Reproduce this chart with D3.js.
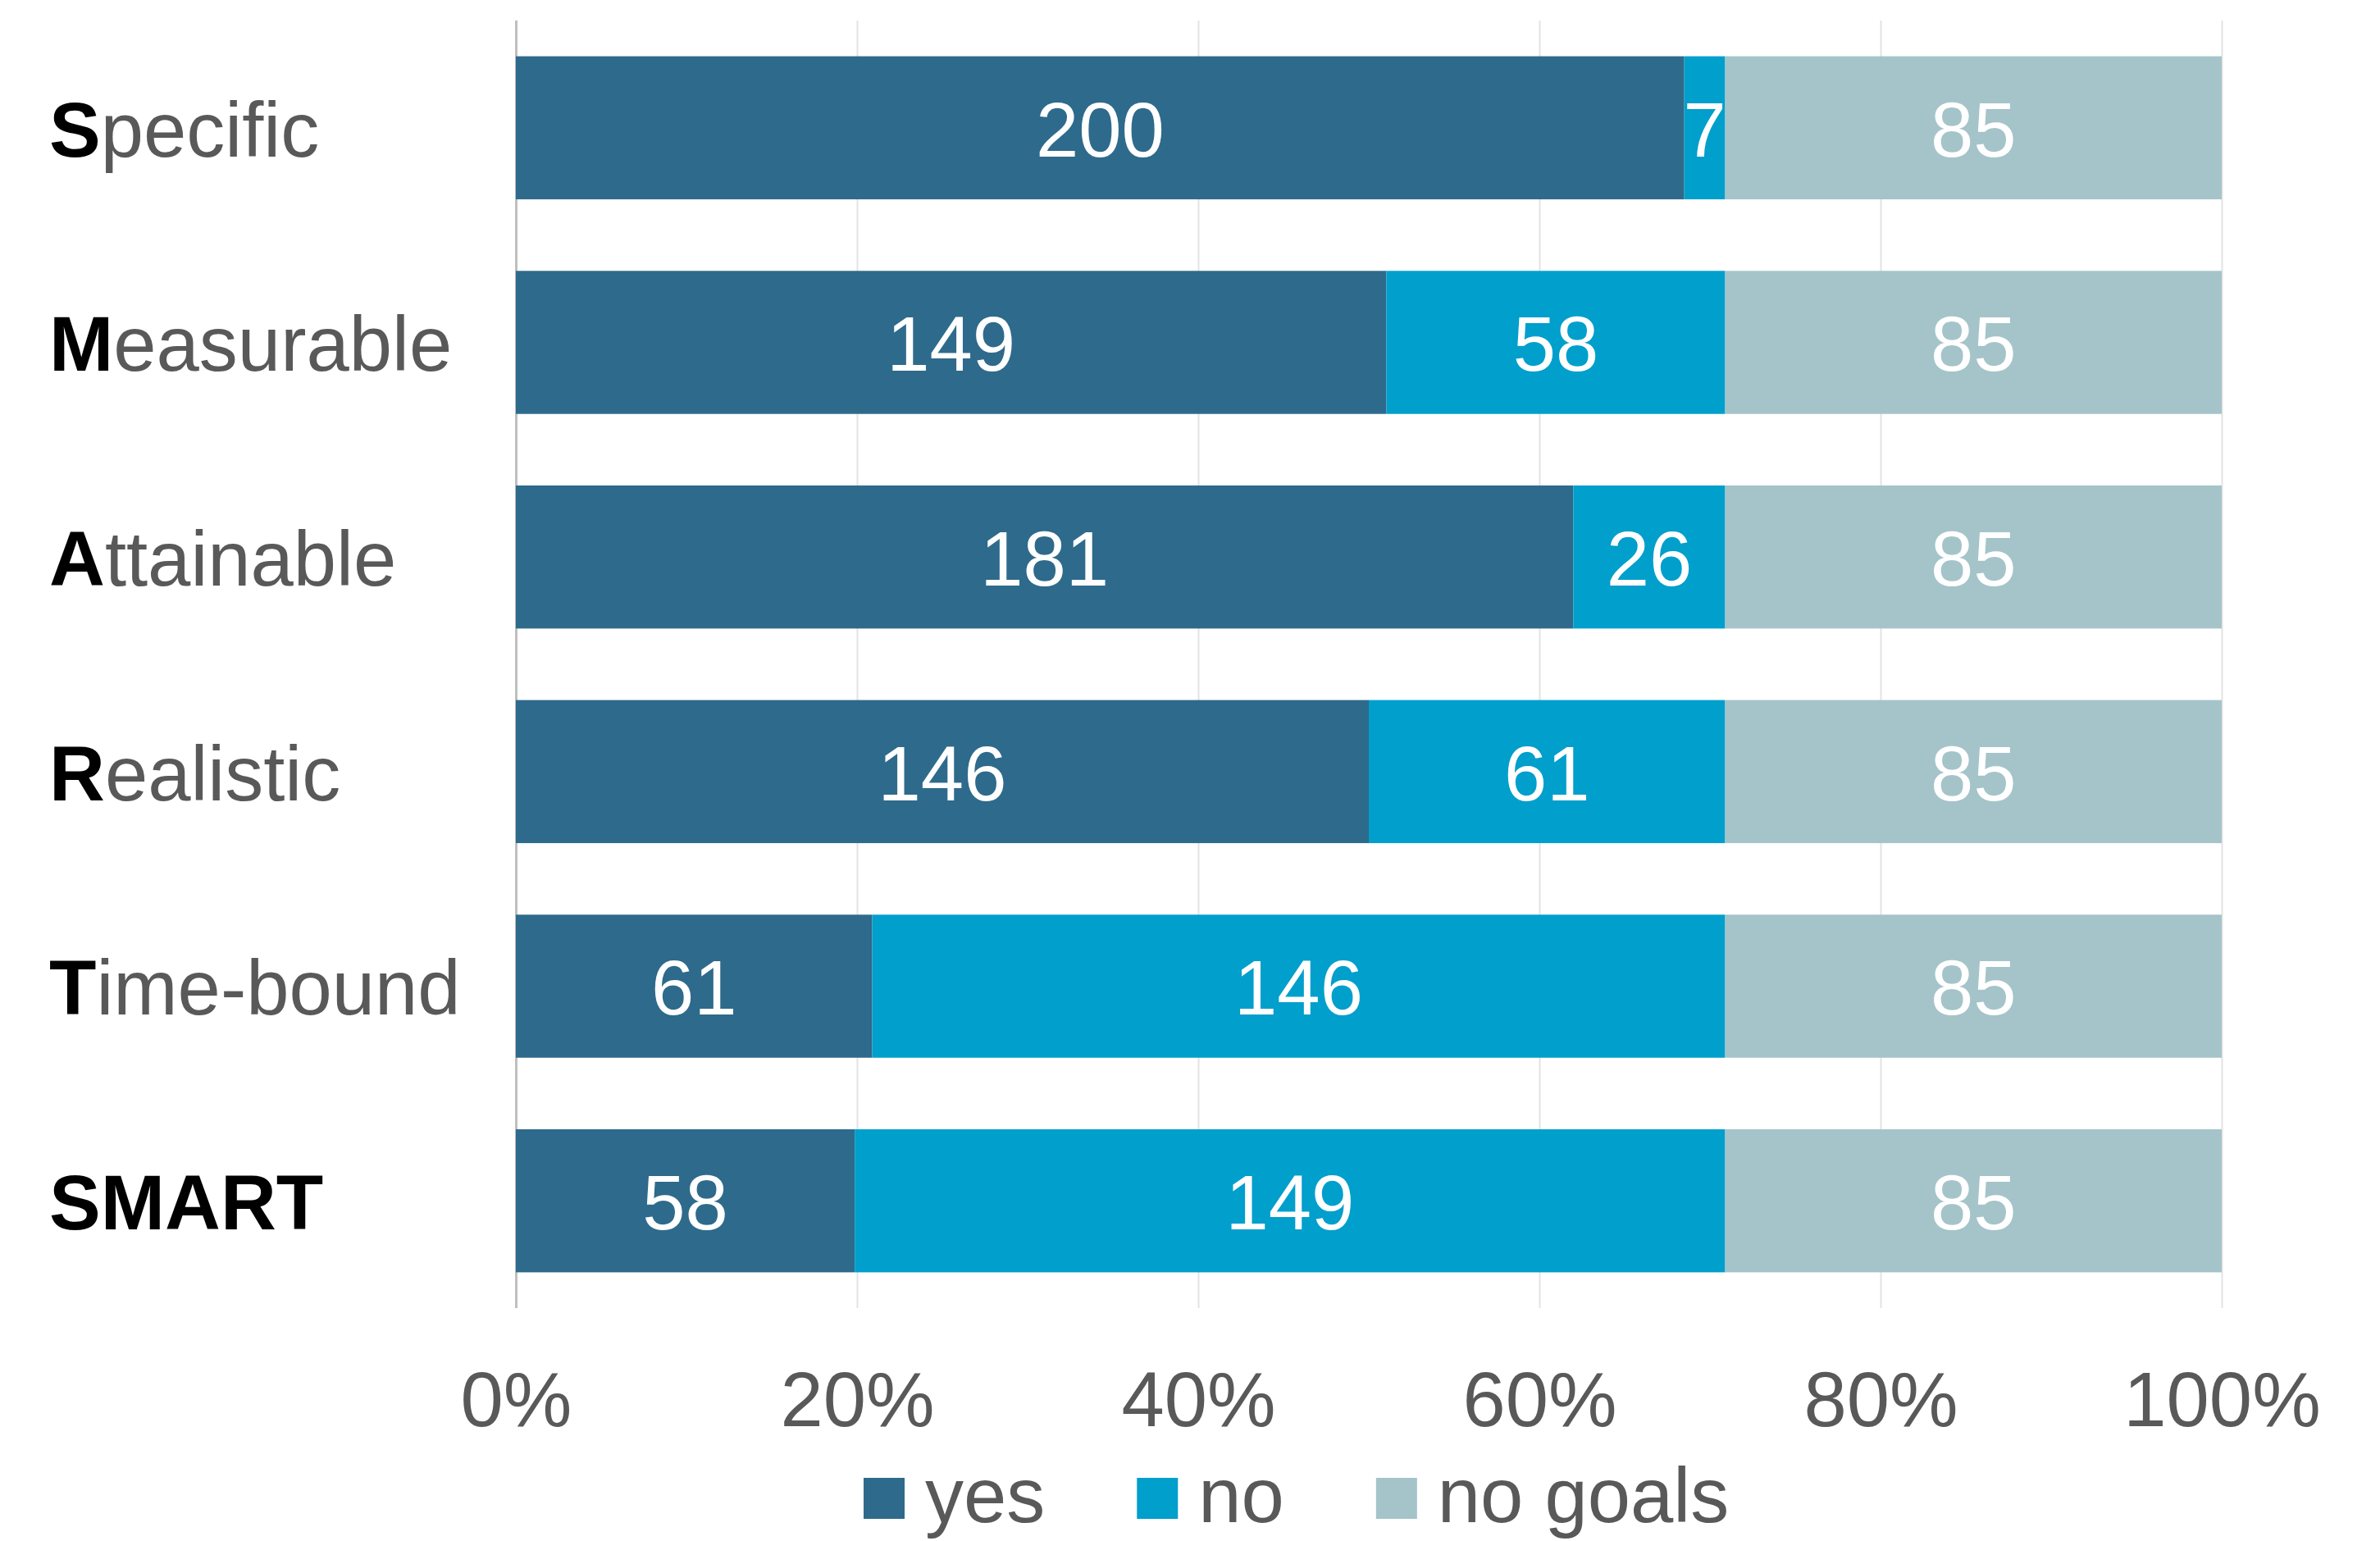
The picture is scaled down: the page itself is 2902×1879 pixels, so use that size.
<!DOCTYPE html>
<html>
<head>
<meta charset="utf-8">
<script src="https://cdn.jsdelivr.net/npm/d3@7"></script>
<style>
  body { margin: 0; background: #fff; }
  svg { display: block; }
</style>
</head>
<body>
<div id="viz"></div>
<script>

var width = 2902
var height = 1879

// data
var categories = ["Specific", "Measurable", "Attainable", "Realistic", "Time-bound", "SMART"];
var yesValues = [200, 149, 181, 146, 61, 58];
var noValues = [7, 58, 26, 61, 146, 149];
var noGoalsValues = [85, 85, 85, 85, 85, 85];
var seriesNames = ["yes", "no", "no goals"];
var seriesColors = ["#2e6a8b", "#009fcc", "#a4c4c9"];
var tickValues = [0, 0.2, 0.4, 0.6, 0.8, 1];

var font = "'Liberation Sans', Arial, sans-serif";
var fontSize = 94;
var grey = "#595959";

var table = categories.map(function(c, i){
	return {cat: c, "yes": yesValues[i], "no": noValues[i], "no goals": noGoalsValues[i]};
});

var canvas = d3.select("#viz")
	.append("svg")
	.attr("width", width)
	.attr("height", height);

var plotLeft = 629, plotRight = 2709, plotTop = 25, plotBottom = 1595;

var xScale = d3.scaleLinear()
	.domain([0, 1])
	.range([plotLeft, plotRight]);

var yScale = d3.scaleBand()
	.domain(categories)
	.range([plotTop, plotBottom])
	.paddingInner(1/3)
	.paddingOuter(1/6);

var colorScale = d3.scaleOrdinal()
	.domain(seriesNames)
	.range(seriesColors);

// gridlines + tick labels
var xAxis = d3.axisBottom(xScale)
	.tickValues(tickValues)
	.tickFormat(d3.format(".0%"))
	.tickSizeInner(-(plotBottom - plotTop))
	.tickSizeOuter(0)
	.tickPadding(77);

var axisG = canvas.append("g")
	.attr("transform", "translate(0," + plotBottom + ")")
	.call(xAxis);

axisG.select(".domain").remove();
axisG.selectAll(".tick line")
	.attr("stroke", function(d){ return d === 0 ? "#bfbfbf" : "#e3e3e3"; })
	.attr("stroke-width", function(d){ return d === 0 ? 3 : 2; });
axisG.selectAll(".tick text")
	.attr("fill", grey)
	.attr("font-family", font)
	.attr("font-size", fontSize);

// stacked, normalised bars
var stack = d3.stack()
	.keys(seriesNames)
	.offset(d3.stackOffsetExpand);

var layers = stack(table);

var layerG = canvas.selectAll(".layer")
	.data(layers)
	.enter()
	.append("g")
	.attr("class", "layer")
	.attr("fill", function(d){ return colorScale(d.key); });

layerG.selectAll("rect")
	.data(function(d){ return d; })
	.enter()
	.append("rect")
	.attr("x", function(d){ return xScale(d[0]); })
	.attr("y", function(d){ return yScale(d.data.cat); })
	.attr("width", function(d){ return xScale(d[1]) - xScale(d[0]); })
	.attr("height", yScale.bandwidth());

layerG.each(function(layer){
	d3.select(this).selectAll("text")
		.data(layer)
		.enter()
		.append("text")
		.attr("x", function(d){ return (xScale(d[0]) + xScale(d[1])) / 2; })
		.attr("y", function(d){ return yScale(d.data.cat) + yScale.bandwidth() / 2; })
		.attr("dy", "0.37em")
		.attr("text-anchor", "middle")
		.attr("fill", "#fff")
		.attr("font-family", font)
		.attr("font-size", fontSize)
		.text(function(d){ return d.data[layer.key]; });
});

// category labels, first letter bold
var catLabels = canvas.selectAll(".cat")
	.data(categories)
	.enter()
	.append("text")
	.attr("class", "cat")
	.attr("x", 60)
	.attr("y", function(d){ return yScale(d) + yScale.bandwidth() / 2; })
	.attr("dy", "0.37em")
	.attr("font-family", font)
	.attr("font-size", fontSize);

catLabels.each(function(d){
	var t = d3.select(this);
	if (d === "SMART") {
		t.append("tspan").attr("font-weight", "bold").attr("fill", "#000").text(d);
	} else {
		t.append("tspan").attr("font-weight", "bold").attr("fill", "#000").text(d.charAt(0));
		t.append("tspan").attr("fill", grey).text(d.slice(1));
	}
});

// legend (nudged up a little so descenders are not clipped)
var legend = canvas.append("g")
	.attr("transform", "translate(1053,1802)");

var lx = 0;
seriesNames.forEach(function(name){
	var item = legend.append("g").attr("transform", "translate(" + lx + ",0)");
	item.append("rect")
		.attr("width", 50)
		.attr("height", 50)
		.attr("fill", colorScale(name));
	var txt = item.append("text")
		.attr("x", 75)
		.attr("y", 54)
		.attr("fill", grey)
		.attr("font-family", font)
		.attr("font-size", fontSize)
		.text(name);
	lx += 75 + txt.node().getComputedTextLength() + 112;
});

</script>
</body>
</html>
